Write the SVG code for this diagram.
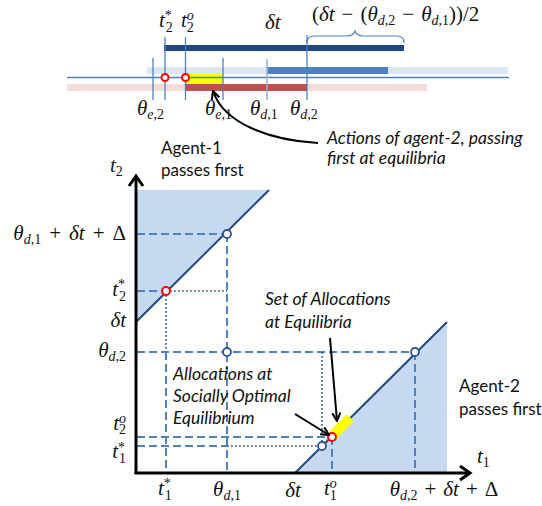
<svg xmlns="http://www.w3.org/2000/svg" width="542" height="506" viewBox="0 0 542 506">
<style>
.m{font-family:"Liberation Serif",serif;font-style:italic;font-size:21px;fill:#111}
.u{font-style:normal}
.s{font-size:14px}
.lab{font-family:Lato,"Liberation Sans",sans-serif;font-size:17px;fill:#111}
.it{font-style:italic;font-size:17.5px}
.dash{stroke:#4f81bd;stroke-width:2;stroke-dasharray:8,4;fill:none}
.dot{stroke:#2f5597;stroke-width:1.6;stroke-dasharray:1.8,2.2;fill:none}
.vt{stroke:#4f81bd;stroke-width:1.3}
.bc{fill:#fff;stroke:#2f5597;stroke-width:1.8}
.rc{fill:#fff;stroke:#ff0000;stroke-width:2}
.arr{stroke:#000;stroke-width:2;fill:none;marker-end:url(#ah)}
</style>
<defs>
<marker id="ah" viewBox="0 0 10 10" refX="9" refY="5" markerWidth="5" markerHeight="5" orient="auto" markerUnits="strokeWidth">
<path d="M1,1 L9,5 L1,9" fill="none" stroke="#000" stroke-width="2"/>
</marker>
</defs>

<!-- Top timeline -->
<g id="timeline">
<rect x="147" y="67" width="361" height="7" fill="#dce6f1"/>
<rect x="267" y="67" width="121" height="7" fill="#4f81bd"/>
<rect x="67" y="84" width="360" height="7" fill="#f2dcdb"/>
<rect x="186" y="84" width="121" height="7" fill="#c0504d"/>
<rect x="186" y="74" width="37" height="10" fill="#ffff00"/>
<rect x="164" y="45" width="240" height="6" fill="#1f497d"/>
<line x1="67" y1="77.5" x2="509" y2="77.5" stroke="#4f81bd" stroke-width="1.3"/>
<line class="vt" x1="153" y1="58" x2="153" y2="100"/>
<line class="vt" x1="165" y1="37" x2="165" y2="100"/>
<line class="vt" x1="185.5" y1="37" x2="185.5" y2="100"/>
<line class="vt" x1="223" y1="58" x2="223" y2="100"/>
<line x1="267" y1="59" x2="267" y2="100" stroke="#95b3d7" stroke-width="1.5"/>
<line class="vt" x1="307" y1="35" x2="307" y2="100"/>
<circle class="rc" cx="165" cy="77.5" r="3.5"/>
<circle class="rc" cx="185.5" cy="77.5" r="3.5"/>
<path d="M307,43 Q307,36 314,36 L347,36 Q353,36 355,31 Q357,36 363,36 L397,36 Q404,36 404,43" fill="none" stroke="#4f81bd" stroke-width="1.2"/>
</g>

<g id="top-labels">
<text class="m" x="159" y="27">t<tspan class="s u" dy="-7">*</tspan><tspan class="s u" dx="-6" dy="12">2</tspan></text>
<text class="m" x="181" y="27">t<tspan class="s" dy="-7">o</tspan><tspan class="s u" dx="-7" dy="12">2</tspan></text>
<text class="m" x="265" y="29">δt</text>
<text class="m" x="312" y="21"><tspan class="u">(</tspan>δt<tspan class="u" dx="7">−</tspan><tspan class="u" dx="7">(</tspan>θ<tspan class="s" dy="4">d</tspan><tspan class="s u">,2</tspan><tspan class="u" dy="-4" dx="7">−</tspan><tspan dx="7">θ</tspan><tspan class="s" dy="4">d</tspan><tspan class="s u">,1</tspan><tspan class="u" dy="-4">))/2</tspan></text>
<text class="m" x="137" y="115">θ<tspan class="s" dy="4">e</tspan><tspan class="s u">,2</tspan></text>
<text class="m" x="205" y="115">θ<tspan class="s" dy="4">e</tspan><tspan class="s u">,1</tspan></text>
<text class="m" x="250" y="115">θ<tspan class="s" dy="4">d</tspan><tspan class="s u">,1</tspan></text>
<text class="m" x="290" y="115">θ<tspan class="s" dy="4">d</tspan><tspan class="s u">,2</tspan></text>
</g>

<g id="actions-note">
<text class="lab it" x="327" y="144">Actions of agent-2, passing</text>
<text class="lab it" x="327" y="164">first at equilibria</text>
</g>

<!-- Plot regions -->
<g id="region-agent1">
<polygon points="137,190 269,190 137,322" fill="#c6d9f1"/>
<line x1="136" y1="322" x2="269" y2="190" stroke="#1f497d" stroke-width="2"/>
<text class="lab" x="161" y="154">Agent-1</text>
<text class="lab" x="161" y="176">passes first</text>
</g>
<g id="region-agent2">
<polygon points="295,473 447,322 447,473" fill="#c6d9f1"/>
<line x1="295" y1="473" x2="447" y2="322" stroke="#1f497d" stroke-width="2"/>
<text class="lab" x="459" y="392">Agent-2</text>
<text class="lab" x="459" y="415">passes first</text>
</g>

<g id="guides">
<line class="dash" x1="137" y1="234" x2="227" y2="234"/>
<line class="dash" x1="227" y1="234" x2="227" y2="472"/>
<line class="dash" x1="137" y1="291" x2="166" y2="291"/>
<line class="dot" x1="166" y1="291" x2="227" y2="291"/>
<line class="dot" x1="166" y1="291" x2="166" y2="352"/>
<line class="dash" x1="166" y1="352" x2="166" y2="472"/>
<line class="dash" x1="137" y1="352" x2="415" y2="352"/>
<line class="dash" x1="415" y1="352" x2="415" y2="472"/>
<line class="dot" x1="322" y1="352" x2="322" y2="446"/>
<line class="dash" x1="137" y1="437" x2="332" y2="437"/>
<line class="dash" x1="137" y1="446" x2="227" y2="446"/>
<line class="dot" x1="227" y1="446" x2="322" y2="446"/>
<line class="dash" x1="332" y1="437" x2="332" y2="472"/>
</g>

<g id="equilibria-set">
<rect x="-13" y="-5" width="26" height="10" fill="#ffff00" transform="translate(341,427) rotate(-45)"/>
</g>

<g id="points">
<circle class="bc" cx="227" cy="234" r="4"/>
<circle class="rc" cx="166" cy="291" r="4"/>
<circle class="bc" cx="227" cy="352" r="4"/>
<circle class="bc" cx="415" cy="352" r="4"/>
<circle class="bc" cx="322" cy="446" r="4"/>
<circle class="rc" cx="332" cy="437" r="4"/>
</g>

<g id="axes">
<line x1="136" y1="474" x2="136" y2="178" stroke="#000" stroke-width="3"/>
<polyline points="129,186 136,176 143,186" fill="none" stroke="#000" stroke-width="3"/>
<line x1="134.5" y1="473" x2="468" y2="473" stroke="#000" stroke-width="3"/>
<polyline points="460,466 470,473 460,480" fill="none" stroke="#000" stroke-width="3"/>
</g>

<g id="connectors">
<path class="arr" d="M318,143 C270,140 224,124 213,91"/>
<line class="arr" x1="330" y1="338" x2="337" y2="421"/>
<line class="arr" x1="295" y1="414" x2="329" y2="435"/>
</g>

<g id="annotations">
<text class="lab it" x="265" y="305">Set of Allocations</text>
<text class="lab it" x="265" y="328">at Equilibria</text>
<text class="lab it" x="173" y="380">Allocations at</text>
<text class="lab it" x="173" y="402">Socially Optimal</text>
<text class="lab it" x="173" y="424">Equilibrium</text>
</g>

<g id="axis-labels">
<text class="m" x="110" y="172">t<tspan class="s u" dy="4">2</tspan></text>
<text class="m" x="126" y="240" text-anchor="end">θ<tspan class="s" dy="4">d</tspan><tspan class="s u">,1</tspan><tspan class="u" dy="-4" dx="8">+</tspan><tspan dx="8">δt</tspan><tspan class="u" dx="8">+</tspan><tspan class="u" dx="8">Δ</tspan></text>
<text class="m" x="126" y="296" text-anchor="end">t<tspan class="s u" dy="-7">*</tspan><tspan class="s u" dx="-6" dy="12">2</tspan></text>
<text class="m" x="126" y="327" text-anchor="end">δt</text>
<text class="m" x="126" y="357" text-anchor="end">θ<tspan class="s" dy="4">d</tspan><tspan class="s u">,2</tspan></text>
<text class="m" x="126" y="430" text-anchor="end">t<tspan class="s" dy="-7">o</tspan><tspan class="s u" dx="-7" dy="11">2</tspan></text>
<text class="m" x="126" y="458" text-anchor="end">t<tspan class="s u" dy="-6">*</tspan><tspan class="s u" dx="-6" dy="11">1</tspan></text>
<text class="m" x="158" y="495">t<tspan class="s u" dy="-7">*</tspan><tspan class="s u" dx="-6" dy="12">1</tspan></text>
<text class="m" x="227" y="496" text-anchor="middle">θ<tspan class="s" dy="4">d</tspan><tspan class="s u">,1</tspan></text>
<text class="m" x="293" y="497" text-anchor="middle">δt</text>
<text class="m" x="324" y="495">t<tspan class="s" dy="-7">o</tspan><tspan class="s u" dx="-7" dy="12">1</tspan></text>
<text class="m" x="444" y="496" text-anchor="middle">θ<tspan class="s" dy="4">d</tspan><tspan class="s u">,2</tspan><tspan class="u" dy="-4" dx="7">+</tspan><tspan dx="7">δt</tspan><tspan class="u" dx="7">+</tspan><tspan class="u" dx="7">Δ</tspan></text>
<text class="m" x="477" y="463">t<tspan class="s u" dy="4">1</tspan></text>
</g>
</svg>
